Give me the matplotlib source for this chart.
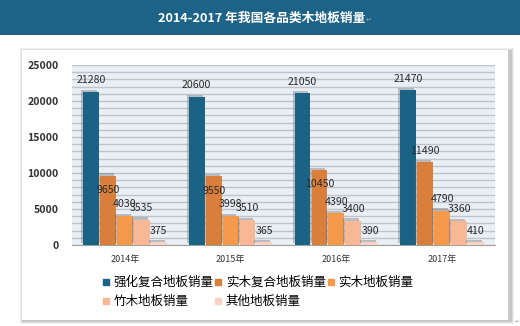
import numpy as np
import matplotlib.pyplot as plt
from matplotlib.patches import Rectangle
from matplotlib.lines import Line2D
import matplotlib.patheffects as pe

plt.rcParams['font.family'] = ['Noto Sans CJK SC', 'DejaVu Sans']

# data
years = ['2014年', '2015年', '2016年', '2017年']
series_names = ['强化复合地板销量', '实木复合地板销量', '实木地板销量', '竹木地板销量', '其他地板销量']
laminate = [21280, 20600, 21050, 21470]
engineered = [9650, 9550, 10450, 11490]
solid = [4030, 3998, 4390, 4790]
bamboo = [3535, 3510, 3400, 3360]
other = [375, 365, 390, 410]
series = [laminate, engineered, solid, bamboo, other]
colors = ['#1a6385', '#d97f3b', '#f5994b', '#f8b795', '#fbd2c2']

# label offsets (the source puts some labels inside the bar)
label_shift = [
    [1600, 1600, 1600, 1600],
    [-2000, -2000, -2000, 1600],
    [1650, 1650, 1650, 1650],
    [1600, 1600, 1600, 1600],
    [1600, 1600, 1600, 1600],
]

W, H = 520, 326
fig = plt.figure(figsize=(W / 100, H / 100), dpi=100)

# title banner
fig.patches.append(Rectangle((0, 1 - 35 / H), 1, 35 / H, transform=fig.transFigure,
                             facecolor='#1c6387', edgecolor='none', zorder=0))
fig.text(262 / W, 1 - 18 / H, '2014-2017 年我国各品类木地板销量', color='white',
         fontsize=9.2, fontweight='bold', ha='center', va='center')
fig.text(369 / W, 1 - 20 / H, '↵', color='#9aa4ad', fontsize=5, ha='center', va='center',
         family=['DejaVu Sans'])

# panel with shadow
px0, px1, py0, py1 = 22, 508, 50, 320
for i, a in enumerate([0.10, 0.16, 0.22]):
    d = 4 - i
    fig.patches.append(Rectangle(((px0 - d + 2) / W, 1 - (py1 + d) / H), (px1 - px0 + 2 * d) / W,
                                 (py1 - py0 + 2 * d - 2) / H, transform=fig.transFigure,
                                 facecolor='#7a7a7a', alpha=a, edgecolor='none', zorder=0.1))
fig.patches.append(Rectangle((px0 / W, 1 - py1 / H), (px1 - px0) / W, (py1 - py0) / H,
                             transform=fig.transFigure, facecolor='white', edgecolor='none', zorder=0.2))
fig.text(517 / W, 1 - 322 / H, '↵', color='#9aa4ad', fontsize=4, ha='center', va='center',
         family=['DejaVu Sans'])

ax = fig.add_axes([72 / W, 1 - 245 / H, (495 - 72) / W, (245 - 65) / H])
ax.set_zorder(2)
ax.set_facecolor('#e9eff5')

x = np.arange(len(years))
bw = 0.16
for k, (vals, col) in enumerate(zip(series, colors)):
    pos = x + (k - 2) * bw
    bars = ax.bar(pos, vals, width=bw - 0.01, color=col, label=series_names[k], zorder=3)
    for b in bars:
        b.set_path_effects([pe.SimplePatchShadow(offset=(-1.5, 1.5), shadow_rgbFace='#606060', alpha=0.35),
                            pe.Normal()])
    for p, v, s in zip(pos, vals, label_shift[k]):
        ax.text(p, v + s, str(v), ha='center', va='center', fontsize=7.6, color='#2b2b2b', zorder=5)

ax.set_ylim(0, 25000)
ax.set_xlim(-0.5, 3.5)
ax.set_yticks(np.arange(0, 25001, 5000))
ax.set_yticks(np.arange(0, 25001, 1000), minor=True)
ax.tick_params(axis='y', which='both', length=0, pad=9.5, labelsize=7.6, labelcolor='#333333')
for t in ax.get_yticklabels():
    t.set_fontweight('bold')
ax.set_xticks(x)
ax.set_xticklabels(years)
ax.tick_params(axis='x', length=0, pad=7.5, labelsize=6.5, labelcolor='#333333')
ax.grid(axis='y', which='both', color='#bfc4c9', linewidth=1.0, zorder=1)
ax.set_axisbelow(True)
for s in ['top', 'right', 'left']:
    ax.spines[s].set_visible(False)
ax.spines['bottom'].set_color('#a0a0a0')

handles = [Line2D([], [], marker='s', linestyle='none', markersize=5, color=c) for c in colors]
order = [0, 3, 1, 4, 2]
leg = fig.legend([handles[i] for i in order], [series_names[i] for i in order], ncol=3,
                 loc='upper left', bbox_to_anchor=(102 / W, 1 - 276 / H), frameon=False,
                 fontsize=9, handlelength=0.6, handletextpad=0.3, columnspacing=0.1,
                 labelspacing=0.5, borderpad=0, borderaxespad=0)
leg.set_zorder(3)

fig.savefig('out.png', dpi=100)
